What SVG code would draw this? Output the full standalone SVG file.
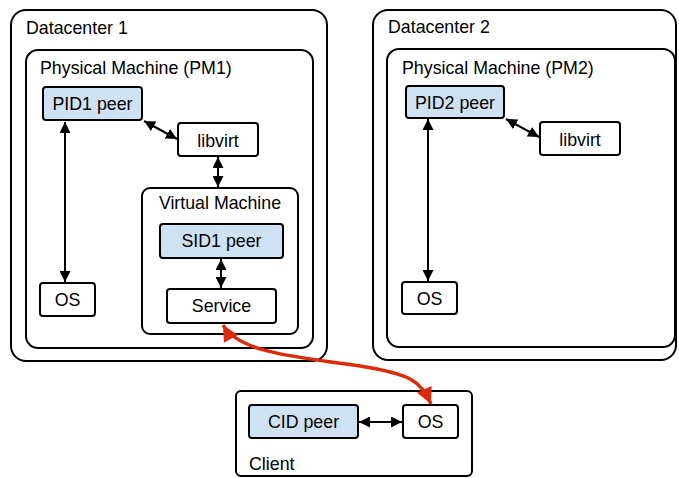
<svg xmlns="http://www.w3.org/2000/svg" width="679" height="478" viewBox="0 0 679 478">
<style>
text{font-family:"Liberation Sans",Arial,sans-serif;font-size:17.8px;fill:#000}
.c{text-anchor:middle}
.ct{fill:#fff;stroke:#000;stroke-width:2}
.bx{fill:#fff;stroke:#000;stroke-width:2}
.pe{fill:#cfe2f3;stroke:#000;stroke-width:2}
.ln{stroke:#000;stroke-width:2;fill:none;marker-start:url(#ab);marker-end:url(#ae)}
.rd{stroke:#dd2a0a;stroke-width:3.5;fill:none;marker-start:url(#rb);marker-end:url(#re)}
</style>
<defs>
<marker id="ae" viewBox="0 0 10 10" refX="10" refY="5" markerWidth="11" markerHeight="11" markerUnits="userSpaceOnUse" orient="auto"><path d="M0,0L10,5L0,10z" fill="#000"/></marker>
<marker id="ab" viewBox="0 0 10 10" refX="0" refY="5" markerWidth="11" markerHeight="11" markerUnits="userSpaceOnUse" orient="auto"><path d="M10,0L0,5L10,10z" fill="#000"/></marker>
<marker id="re" viewBox="0 0 10 10" refX="10" refY="5" markerWidth="18" markerHeight="16" markerUnits="userSpaceOnUse" orient="auto"><path d="M0,0L10,5L0,10z" fill="#dd2a0a"/></marker>
<marker id="rb" viewBox="0 0 10 10" refX="0" refY="5" markerWidth="18" markerHeight="16" markerUnits="userSpaceOnUse" orient="auto"><path d="M10,0L0,5L10,10z" fill="#dd2a0a"/></marker>
</defs>

<g id="dc1">
<rect class="ct" x="11" y="10" width="316" height="351" rx="15"/>
<text x="26" y="34">Datacenter 1</text>
</g>
<g id="pm1">
<rect class="ct" x="26" y="50" width="287" height="298" rx="12"/>
<text x="40" y="74">Physical Machine (PM1)</text>
</g>
<g id="pid1">
<rect class="pe" x="43" y="87" width="99" height="33" rx="3"/>
<text class="c" x="92.5" y="110">PID1 peer</text>
</g>
<g id="libvirt1">
<rect class="bx" x="178" y="123" width="80" height="33" rx="3"/>
<text class="c" x="218" y="147">libvirt</text>
</g>
<g id="vm">
<rect class="ct" x="142" y="188" width="156" height="146" rx="8"/>
<text class="c" x="220" y="209">Virtual Machine</text>
</g>
<g id="sid1">
<rect class="pe" x="160" y="224" width="123" height="34" rx="3"/>
<text class="c" x="221.5" y="247">SID1 peer</text>
</g>
<g id="service">
<rect class="bx" x="167" y="289" width="109" height="34" rx="3"/>
<text class="c" x="221.5" y="312">Service</text>
</g>
<g id="os1">
<rect class="bx" x="40" y="283" width="55" height="33" rx="3"/>
<text class="c" x="67.5" y="306">OS</text>
</g>

<g id="dc2">
<rect class="ct" x="373" y="10" width="303" height="350" rx="15"/>
<text x="388" y="33">Datacenter 2</text>
</g>
<g id="pm2">
<rect class="ct" x="387" y="49" width="288" height="298" rx="12"/>
<text x="402" y="74">Physical Machine (PM2)</text>
</g>
<g id="pid2">
<rect class="pe" x="406" y="86" width="98" height="32" rx="3"/>
<text class="c" x="455" y="109">PID2 peer</text>
</g>
<g id="libvirt2">
<rect class="bx" x="540" y="122" width="80" height="33" rx="3"/>
<text class="c" x="580" y="146">libvirt</text>
</g>
<g id="os2">
<rect class="bx" x="402" y="282" width="55" height="32" rx="3"/>
<text class="c" x="429.5" y="305">OS</text>
</g>

<g id="client">
<rect class="ct" x="236" y="391" width="236" height="85" rx="5"/>
<text x="249" y="470">Client</text>
</g>
<g id="cid">
<rect class="pe" x="249" y="405" width="109" height="33" rx="3"/>
<text class="c" x="303.5" y="428">CID peer</text>
</g>
<g id="osc">
<rect class="bx" x="403" y="405" width="55" height="33" rx="3"/>
<text class="c" x="430.5" y="428">OS</text>
</g>

<g id="connectors">
<line class="ln" x1="144" y1="121" x2="177" y2="139"/>
<line class="ln" x1="218" y1="157" x2="218" y2="187"/>
<line class="ln" x1="221" y1="259" x2="221" y2="288"/>
<line class="ln" x1="65" y1="122" x2="65" y2="282"/>
<line class="ln" x1="506" y1="119" x2="539" y2="137"/>
<line class="ln" x1="428" y1="119" x2="428" y2="281"/>
<line class="ln" x1="359" y1="422" x2="402" y2="422"/>
<path class="rd" d="M223,325 C240,355 310,358 360,366 S420,380 431,404"/>
</g>
</svg>
